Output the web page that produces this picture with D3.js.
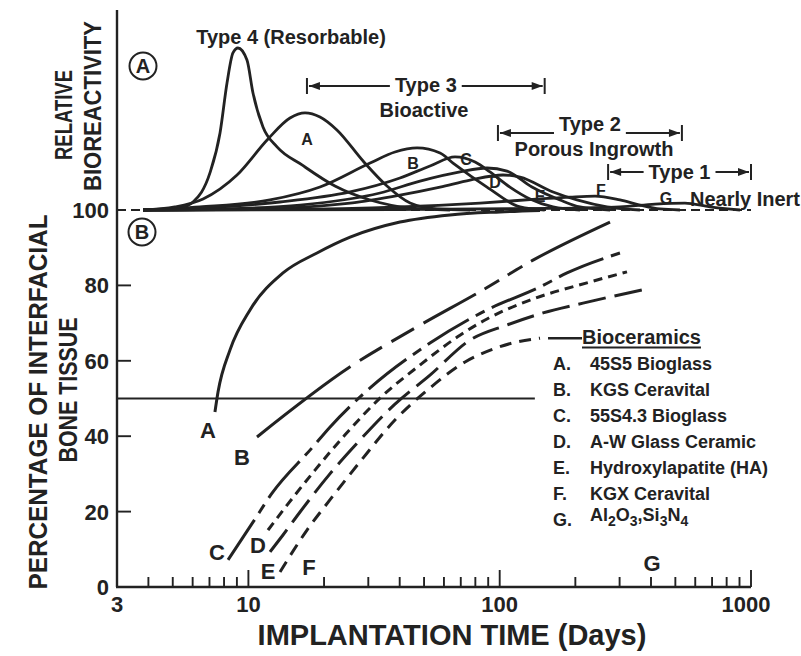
<!DOCTYPE html>
<html><head><meta charset="utf-8">
<script src="https://cdn.jsdelivr.net/npm/d3@7"></script>
<style>
body{margin:0;background:#fff;}
svg text{font-family:"Liberation Sans",Arial,Helvetica,sans-serif;font-weight:bold;fill:#222;}
</style></head><body>
<svg id="c" width="801" height="656"></svg>
<script>
// ---------------- DATA ----------------
const xTickValues = [3, 10, 100, 1000];
const xTickLabels = ["3", "10", "100", "1000"];
const xMinorTicks = [4,5,6,7,8,9,20,30,40,50,60,70,80,90,200,300,400,500,600,700,800,900];
const yTickValues = [0, 20, 40, 60, 80, 100];
const yTickLabels = ["0", "20", "40", "60", "80", "100"];

// Panel A: relative bioreactivity vs implantation time (days)
const type4Curve = [[3.81,0],[5.34,1.2],[6.02,4.7],[7.03,21.8],[7.71,45.3],[8.22,74.7],[8.68,92.4],[9.09,95.3],[9.87,88.2],[10.43,68.8],[11.43,48.8],[13.0,37.1],[16.34,26.5],[22.1,14.1],[30.5,5.9],[44.0,1.2],[63.4,0]];
const reactA = [[3.81,0],[5.10,1.8],[6.60,6.5],[9.01,20.6],[11.97,41.8],[14.64,54.1],[16.8,57.1],[19.27,54.7],[22.5,47.1],[28.6,28.8],[35.6,14.1],[44.0,4.1],[56.3,0.6],[76.2,0]];
const reactB = [[3.81,0],[6.42,1.8],[12.19,5.9],[19.27,13.5],[30.5,27.6],[38.3,34.1],[46.9,36.5],[57.9,33.5],[65.2,27.6],[89.0,13.5],[120.5,1.8],[151,0]];
const reactC = [[3.81,0],[6.42,1.2],[13.36,4.7],[25.4,10.6],[40.1,18.8],[52.8,25.9],[66.4,31.2],[79.8,28.2],[91.5,22.4],[109.8,13.5],[132,6.5],[163,1.8],[208.6,0]];
const reactD = [[3.81,0],[7.71,0.6],[16.05,2.9],[33.4,10.0],[48.2,17.0],[69.5,22.4],[89.0,24.7],[106.9,22.9],[134.4,13.5],[173.8,5.9],[208.6,1.8],[274.8,0]];
const reactE = [[3.81,0],[10.15,0.6],[25.4,4.1],[40.1,8.8],[57.9,13.5],[76.2,17.6],[103.1,20.6],[120.5,19.4],[163,10.6],[203,5.9],[267.3,1.8],[361.5,0]];
const reactF = [[3.81,0],[13.36,0.3],[40.1,1.8],[83.5,4.1],[144.7,6.5],[190.4,7.6],[239.5,8.2],[301,5.9],[361.5,2.9],[434,0.6],[521.6,0]];
const reactG = [[3.81,0],[40.1,0.3],[158.5,0.9],[301,1.8],[415,3.5],[546,4.1],[687,1.8],[904,0]];

const typeLabels = ["Type 3", "Type 2", "Type 1"];
const typeSubLabels = ["Bioactive", "Porous Ingrowth", "Nearly Inert"];
const typeStart = [17.1, 98.4, 270];
const typeEnd = [151, 531, 1000];

// Panel B: percentage of interfacial bone tissue
const boneA = [[7.36,46.4],[7.57,51.7],[8.45,62.9],[10.15,73.5],[13.73,83.3],[18.75,88.6],[25.4,92.8],[40.1,96.8],[63.4,98.7],[100.3,99.5],[144.7,99.9]];
const boneB = [[10.82,39.8],[25.4,58.4],[46.9,69.0],[85.8,78.8],[135.7,86.7],[274.8,96.8]];
const boneC = [[8.30,7.2],[10.43,17.2],[12.42,24.9],[17.91,36.9],[21.1,42.4],[30.5,52.8],[52.8,64.7],[89.0,73.5],[144.7,79.6],[185.3,83.3],[301,88.6]];
const boneD = [[11.97,15.1],[13.98,21.0],[18.41,31.0],[24.2,40.3],[33.4,50.1],[48.2,58.9],[69.5,66.8],[89.0,71.1],[132,76.1],[228.7,80.9],[321,83.6]];
const boneE = [[12.19,9.3],[13.73,13.8],[16.05,19.9],[21.1,30.0],[27.8,39.0],[38.3,48.5],[52.8,56.2],[76.2,65.5],[106.9,69.5],[148.7,72.7],[214.6,75.3],[368,78.8]];
const boneF = [[13.36,4.0],[17.11,15.1],[21.1,23.1],[27.8,33.2],[38.3,44.3],[52.8,52.8],[72.8,59.7],[94.1,63.1],[111.9,64.7],[144.7,66.0]];
const fiftyLine = [[3, 50], [138, 50]];

const legendTitle = "Bioceramics";
const materialKeys = ["A.", "B.", "C.", "D.", "E.", "F.", "G."];
const materialNames = ["45S5 Bioglass", "KGS Ceravital", "55S4.3 Bioglass", "A-W Glass Ceramic", "Hydroxylapatite (HA)", "KGX Ceravital", "Al2O3,Si3N4"];

// ---------------- CHART ----------------
const svg = d3.select("#c");
const ink = "#222";
const x = d3.scaleLog().domain([3, 1000]).range([117, 751]);
const y = d3.scaleLinear().domain([0, 100]).range([587, 210]);
const yA = d3.scaleLinear().domain([0, 100]).range([210, 40]);
const topY = 10;

function txt(px, py, s, size, anchor) {
  return svg.append("text").attr("x", px).attr("y", py).attr("font-size", size)
    .attr("text-anchor", anchor || "middle").text(s);
}

// dashed 100% baseline
svg.append("line").attr("x1", x(3)).attr("x2", x(1000)).attr("y1", y(100)).attr("y2", y(100))
  .attr("stroke", ink).attr("stroke-width", 2).attr("stroke-dasharray", "9,5");

// axes
svg.append("line").attr("x1", x(3)).attr("x2", x(3)).attr("y1", topY).attr("y2", y(0))
  .attr("stroke", ink).attr("stroke-width", 2.4);
svg.append("line").attr("x1", x(3) - 1).attr("x2", x(1000)).attr("y1", y(0)).attr("y2", y(0))
  .attr("stroke", ink).attr("stroke-width", 2.4);

// x ticks
const majors = xTickValues.filter(v => v > 3);
svg.selectAll(".xmaj").data(majors).enter().append("line")
  .attr("x1", d => x(d)).attr("x2", d => x(d)).attr("y1", y(0)).attr("y2", y(0) - 17)
  .attr("stroke", ink).attr("stroke-width", 1.9);
svg.selectAll(".xmin").data(xMinorTicks).enter().append("line")
  .attr("x1", d => x(d)).attr("x2", d => x(d)).attr("y1", y(0)).attr("y2", y(0) - 10)
  .attr("stroke", ink).attr("stroke-width", 1.9);
xTickValues.forEach((v, i) => txt(x(v) - (v === 1000 ? 5 : 0), 612, xTickLabels[i], 22));

// y ticks
svg.selectAll(".ytk").data(yTickValues.filter(v => v > 0 && v < 100)).enter().append("line")
  .attr("x1", x(3)).attr("x2", x(3) + 14).attr("y1", d => y(d)).attr("y2", d => y(d))
  .attr("stroke", ink).attr("stroke-width", 1.9);
yTickValues.forEach((v, i) => txt(109, y(v) + 8, yTickLabels[i], 22, "end"));

// axis titles
txt(452, 645, "IMPLANTATION TIME (Days)", 29);
function vtxt(cx, cy, s, size, len) {
  const t = svg.append("text").attr("transform", `translate(${cx},${cy}) rotate(-90)`)
    .attr("font-size", size).attr("text-anchor", "middle").attr("dy", "0.36em").text(s);
  if (len) t.attr("textLength", len).attr("lengthAdjust", "spacingAndGlyphs");
}
vtxt(64, 115, "RELATIVE", 23, 90);
vtxt(93, 106, "BIOREACTIVITY", 23, 170);
vtxt(38, 402, "PERCENTAGE OF INTERFACIAL", 25, 375);
vtxt(68, 390, "BONE TISSUE", 25, 145);

// circled panel letters
[["A", 143, 66], ["B", 142, 232]].forEach(([l, cx, cy]) => {
  svg.append("circle").attr("cx", cx).attr("cy", cy).attr("r", 13.5)
    .attr("fill", "none").attr("stroke", ink).attr("stroke-width", 2);
  txt(cx, cy + 7, l, 20);
});

// panel A curves
const lineA = d3.line().x(d => x(d[0])).y(d => yA(d[1])).curve(d3.curveMonotoneX);
[type4Curve, reactA, reactB, reactC, reactD, reactE, reactF, reactG].forEach(c => {
  svg.append("path").attr("d", lineA(c)).attr("fill", "none")
    .attr("stroke", ink).attr("stroke-width", 2.8);
});

// panel A labels
txt(291, 44, "Type 4 (Resorbable)", 20);
[["A",307,145],["B",413,169],["C",466,165],["D",495,188],["E",540,202],["F",601,196],["G",666,204]]
  .forEach(([l, px, py]) => txt(px, py, l, 16));

// type brackets
const bracketY = [86, 133, 172];
const labelDy = [6, -2, 7];
const subY = [117, 156, 206];
typeLabels.forEach((lab, i) => {
  const x0 = x(typeStart[i]), x1 = x(typeEnd[i]), by = bracketY[i];
  const cx = (x0 + x1) / 2;
  const t = txt(cx, by + labelDy[i], lab, 20);
  const w = t.node().getComputedTextLength();
  const g = svg.append("g").attr("stroke", ink).attr("stroke-width", 2);
  g.append("line").attr("x1", x0).attr("x2", x0).attr("y1", by - 8).attr("y2", by + 8);
  g.append("line").attr("x1", x1).attr("x2", x1).attr("y1", by - 8).attr("y2", by + 8);
  g.append("line").attr("x1", x0 + 2).attr("x2", cx - w / 2 - 5).attr("y1", by).attr("y2", by);
  g.append("line").attr("x1", cx + w / 2 + 5).attr("x2", x1 - 2).attr("y1", by).attr("y2", by);
  svg.append("path").attr("d", `M${x0 + 2},${by}L${x0 + 13},${by - 4}L${x0 + 13},${by + 4}Z`).attr("fill", ink);
  svg.append("path").attr("d", `M${x1 - 2},${by}L${x1 - 13},${by - 4}L${x1 - 13},${by + 4}Z`).attr("fill", ink);
});
txt(424, subY[0], typeSubLabels[0], 20);
txt(594, subY[1], typeSubLabels[1], 20);
txt(745, subY[2], typeSubLabels[2], 20);

// panel B
const lineB = d3.line().x(d => x(d[0])).y(d => y(d[1])).curve(d3.curveMonotoneX);
svg.append("path").attr("d", lineB(fiftyLine)).attr("stroke", ink).attr("stroke-width", 2.2).attr("fill", "none");
const boneSeries = [
  [boneA, null],
  [boneB, "117,11,26,11,26,11,60,10,17,10,17,10,300"],
  [boneC, "48,8,10,8"],
  [boneD, "9,6"],
  [boneE, "28,9"],
  [boneF, "12,8"]
];
boneSeries.forEach(([c, dash]) => {
  const p = svg.append("path").attr("d", lineB(c)).attr("fill", "none")
    .attr("stroke", ink).attr("stroke-width", 3);
  if (dash) p.attr("stroke-dasharray", dash);
});
// leader from F to legend title
const fEnd = boneF[boneF.length - 1];
svg.append("line").attr("x1", x(fEnd[0]) + 8).attr("x2", x(fEnd[0]) + 42)
  .attr("y1", y(fEnd[1])).attr("y2", y(fEnd[1])).attr("stroke", ink).attr("stroke-width", 2.6);

[["A",208,438],["B",242,465],["C",217,560],["D",258,553],["E",268,579],["F",309,575],["G",652,571]]
  .forEach(([l, px, py]) => txt(px, py, l, 22));

// legend
const lt = txt(582, 344, legendTitle, 20, "start");
const lw = lt.node().getComputedTextLength();
svg.append("line").attr("x1", 582).attr("x2", 582 + lw).attr("y1", 347.5).attr("y2", 347.5)
  .attr("stroke", ink).attr("stroke-width", 1.8);
materialKeys.forEach((k, i) => {
  const ry = 369.5 + i * 26;
  txt(553, ry, k, 18, "start");
  const t = svg.append("text").attr("x", 590).attr("y", ry).attr("font-size", 18);
  // render digits in chemical formulas as subscripts
  const name = materialNames[i];
  if (/^[A-Z][a-z]?\d/.test(name)) {
    const parts = name.match(/\d+|[^\d]+/g);
    parts.forEach(p => {
      if (/^\d+$/.test(p)) t.append("tspan").attr("dy", 5).attr("font-size", 14).text(p);
      else t.append("tspan").attr("dy", t.selectAll("tspan").size() ? -5 : 0).text(p);
    });
  } else t.text(name);
});
</script>
</body></html>
